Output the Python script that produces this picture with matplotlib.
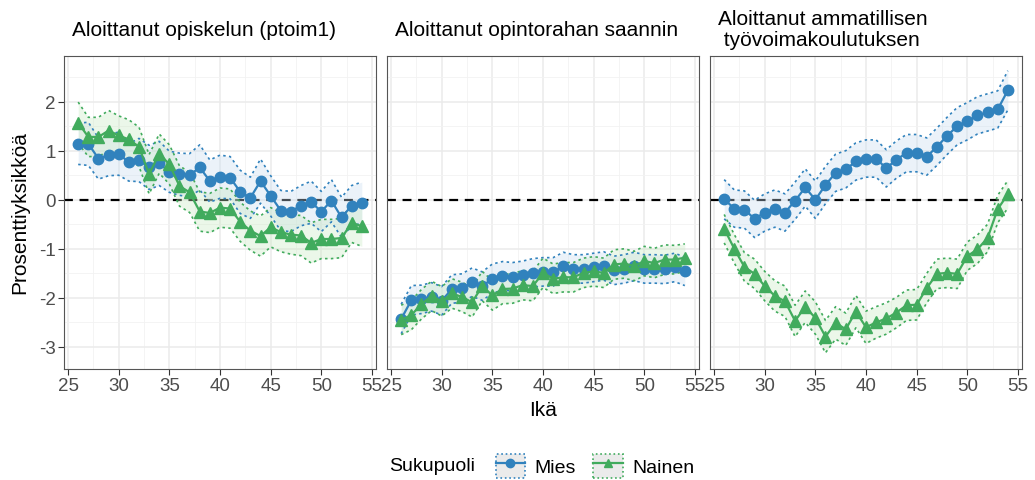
import matplotlib.pyplot as plt
from matplotlib.lines import Line2D
from matplotlib.patches import Patch
import numpy as np

plt.rcParams['font.family'] = ['Liberation Sans', 'DejaVu Sans']
plt.rcParams['axes.unicode_minus'] = False

# Data
ika = list(range(26, 55))

paneelit = ['Aloittanut opiskelun (ptoim1)',
            'Aloittanut opintorahan saannin',
            'Aloittanut ammatillisen\n työvoimakoulutuksen']

# Panel 1: Aloittanut opiskelun
mies_1 = [1.14, 1.14, 0.84, 0.91, 0.94, 0.76, 0.81, 0.66, 0.74, 0.57, 0.52, 0.50, 0.66, 0.38, 0.47,
          0.45, 0.16, 0.04, 0.38, 0.08, -0.22, -0.24, -0.12, -0.05, -0.24, -0.02, -0.36, -0.12, -0.06]
mies_1_ci = [0.42, 0.44, 0.42, 0.42, 0.44, 0.38, 0.44, 0.45, 0.45, 0.42, 0.43, 0.44, 0.46, 0.43, 0.44,
             0.43, 0.44, 0.42, 0.45, 0.41, 0.41, 0.41, 0.41, 0.43, 0.41, 0.43, 0.41, 0.41, 0.42]
nainen_1 = [1.57, 1.28, 1.28, 1.41, 1.31, 1.23, 1.08, 0.52, 0.94, 0.72, 0.28, 0.15, -0.24, -0.27, -0.16,
            -0.18, -0.45, -0.63, -0.74, -0.56, -0.66, -0.71, -0.73, -0.88, -0.80, -0.80, -0.78, -0.47, -0.54]
nainen_1_ci = [0.42, 0.40, 0.40, 0.41, 0.40, 0.40, 0.40, 0.40, 0.40, 0.40, 0.41, 0.41, 0.40, 0.40, 0.40,
               0.40, 0.40, 0.40, 0.41, 0.40, 0.40, 0.40, 0.41, 0.41, 0.40, 0.40, 0.40, 0.40, 0.41]

# Panel 2: Aloittanut opintorahan saannin
mies_2 = [-2.43, -2.05, -2.03, -1.98, -2.06, -1.82, -1.80, -1.68, -1.76, -1.61, -1.55, -1.57, -1.54, -1.49, -1.47,
          -1.47, -1.36, -1.41, -1.41, -1.38, -1.35, -1.44, -1.41, -1.36, -1.41, -1.41, -1.42, -1.38, -1.46]
mies_2_ci = [0.30, 0.30, 0.29, 0.29, 0.29, 0.29, 0.29, 0.29, 0.29, 0.30, 0.29, 0.29, 0.29, 0.29, 0.29,
             0.29, 0.29, 0.29, 0.29, 0.29, 0.29, 0.29, 0.29, 0.29, 0.29, 0.29, 0.29, 0.29, 0.29]
nainen_2 = [-2.45, -2.35, -2.13, -1.96, -2.07, -1.91, -1.98, -2.09, -1.76, -1.95, -1.82, -1.81, -1.74, -1.76, -1.49,
            -1.61, -1.58, -1.58, -1.49, -1.46, -1.49, -1.32, -1.30, -1.35, -1.25, -1.29, -1.22, -1.22, -1.18]
nainen_2_ci = [0.30, 0.30, 0.30, 0.30, 0.30, 0.30, 0.30, 0.30, 0.30, 0.30, 0.30, 0.30, 0.30, 0.30, 0.30,
               0.30, 0.30, 0.30, 0.30, 0.30, 0.30, 0.30, 0.30, 0.30, 0.30, 0.30, 0.30, 0.29, 0.28]

# Panel 3: Aloittanut ammatillisen työvoimakoulutuksen
mies_3 = [0.01, -0.18, -0.20, -0.39, -0.26, -0.18, -0.26, -0.02, 0.25, 0.00, 0.30, 0.55, 0.62, 0.78, 0.84,
          0.84, 0.64, 0.82, 0.95, 0.95, 0.88, 1.08, 1.30, 1.50, 1.60, 1.72, 1.78, 1.84, 2.23]
mies_3_ci = [0.40, 0.38, 0.38, 0.38, 0.38, 0.38, 0.38, 0.38, 0.38, 0.38, 0.38, 0.38, 0.38, 0.38, 0.38,
             0.38, 0.38, 0.38, 0.38, 0.38, 0.38, 0.38, 0.38, 0.38, 0.38, 0.38, 0.38, 0.38, 0.40]
nainen_3 = [-0.59, -1.00, -1.37, -1.51, -1.76, -1.96, -2.07, -2.47, -2.18, -2.41, -2.79, -2.51, -2.64, -2.28, -2.60,
            -2.50, -2.42, -2.30, -2.15, -2.14, -1.80, -1.51, -1.49, -1.51, -1.15, -1.01, -0.78, -0.19, 0.11]
nainen_3_ci = [0.29, 0.29, 0.29, 0.30, 0.30, 0.31, 0.31, 0.32, 0.32, 0.33, 0.33, 0.33, 0.33, 0.33, 0.33,
               0.32, 0.32, 0.31, 0.31, 0.31, 0.30, 0.30, 0.30, 0.30, 0.29, 0.29, 0.28, 0.28, 0.28]

mies = [mies_1, mies_2, mies_3]
mies_ci = [mies_1_ci, mies_2_ci, mies_3_ci]
nainen = [nainen_1, nainen_2, nainen_3]
nainen_ci = [nainen_1_ci, nainen_2_ci, nainen_3_ci]

sininen = '#3182BD'
vihrea = '#41AB5D'
sininen_tausta = '#C6DBEF'
vihrea_tausta = '#C7E9C0'

W, H = 1035, 481
fig = plt.figure(figsize=(W / 100, H / 100), dpi=100)

lefts = [64, 387, 710]
top, bottom = 57, 370
width = 312

axes = []
for i in range(3):
    ax = fig.add_axes([lefts[i] / W, 1 - bottom / H, width / W, (bottom - top) / H])
    axes.append(ax)

    ax.set_xlim(24.6, 55.4)
    ax.set_ylim(-3.45, 2.93)
    ax.set_xticks([25, 30, 35, 40, 45, 50, 55])
    ax.set_xticks(np.arange(27.5, 55, 5), minor=True)
    ax.set_yticks([-3, -2, -1, 0, 1, 2])
    ax.set_yticks(np.arange(-2.5, 3, 1), minor=True)
    ax.grid(which='major', color='#EBEBEB', lw=1.1, zorder=0)
    ax.grid(which='minor', color='#F2F2F2', lw=0.6, zorder=0)
    ax.set_axisbelow(True)
    ax.tick_params(which='minor', length=0)
    ax.tick_params(which='major', length=4, color='#333333', labelcolor='#4D4D4D',
                   labelsize=13.5, width=0.8, pad=2)
    for s in ax.spines.values():
        s.set_color('#555555')
        s.set_linewidth(0.8)
    if i > 0:
        ax.tick_params(axis='y', left=False, labelleft=False)

    ax.axhline(0, color='black', lw=1.6, ls=(0, (4, 3)), zorder=2)

    for y, ci, col, tausta, mk, ms in [(mies[i], mies_ci[i], sininen, sininen_tausta, 'o', 7.5),
                                       (nainen[i], nainen_ci[i], vihrea, vihrea_tausta, '^', 8)]:
        y = np.array(y)
        ci = np.array(ci)
        ax.fill_between(ika, y - ci, y + ci, color=tausta, alpha=0.35, lw=0, zorder=3)
        ax.plot(ika, y - ci, color=col, lw=1.2, ls=(0, (1.5, 2)), zorder=4)
        ax.plot(ika, y + ci, color=col, lw=1.2, ls=(0, (1.5, 2)), zorder=4)
        ax.plot(ika, y, color=col, lw=1.6, marker=mk, ms=ms, zorder=5)

    fig.text((lefts[i] + 8) / W, 1 - 30 / H, paneelit[i], fontsize=15,
             ha='left', va='center', linespacing=1.15)

fig.text(543 / W, 1 - 410 / H, 'Ikä', fontsize=15, ha='center', va='center')
fig.text(20 / W, 1 - 213 / H, 'Prosenttiyksikköä', fontsize=15, rotation=90,
         ha='center', va='center')

# Legend at the bottom
fig.text(389 / W, 1 - 467 / H, 'Sukupuoli', fontsize=14, ha='left', va='center')
handles = [
    (Patch(facecolor='#EBEBEB', edgecolor=sininen, ls=':', lw=1.2),
     Line2D([], [], color=sininen, marker='o', ms=6, lw=1.6)),
    (Patch(facecolor='#EBEBEB', edgecolor=vihrea, ls=':', lw=1.2),
     Line2D([], [], color=vihrea, marker='^', ms=6, lw=1.6)),
]
fig.legend(handles, ['Mies', 'Nainen'], loc='center left', bbox_to_anchor=(486 / W, 1 - 467 / H),
           ncol=2, frameon=False, fontsize=14, handlelength=1.5, handleheight=1.6,
           handletextpad=0.5, columnspacing=0.9, borderpad=0)

plt.savefig('out.png', dpi=100)
